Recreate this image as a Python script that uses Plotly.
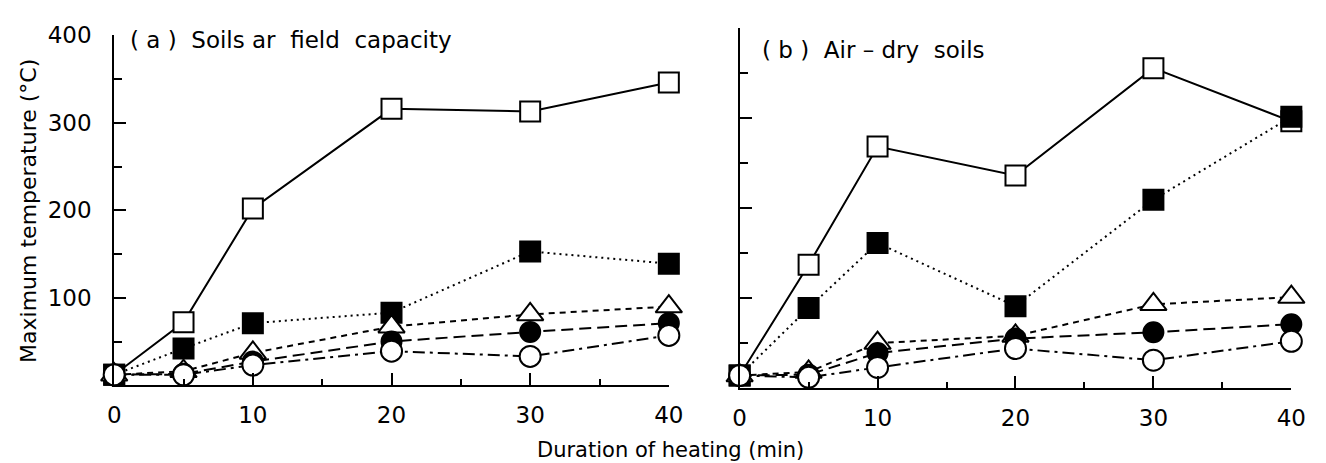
import plotly.graph_objects as go

minutes = [0, 5, 10, 20, 30, 40]

# Panel (a) Soils at field capacity
a_open_square = [12, 72, 202, 316, 313, 346]
a_filled_square = [12, 42, 71, 83, 153, 139]
a_open_triangle = [12, 16, 37, 67, 81, 90]
a_filled_circle = [12, 13, 27, 50, 61, 71]
a_open_circle = [12, 12, 23, 39, 33, 57]

# Panel (b) Air-dry soils
b_open_square = [14, 137, 268, 236, 355, 296]
b_filled_square = [14, 89, 161, 91, 209, 301]
b_open_triangle = [14, 18, 50, 58, 93, 101]
b_filled_circle = [14, 15, 39, 55, 62, 71]
b_open_circle = [14, 12, 23, 44, 31, 52]

x_ticks = [0, 10, 20, 30, 40]
x_minor = [5, 15, 25, 35]
y_ticks = [100, 200, 300, 400]
y_minor = [50, 150, 250, 350]

FONT = "DejaVu Sans"

styles = [
    ("square", "white", "solid", 20),
    ("square", "black", "2px,4px", 20),
    ("triangle-up", "white", "6px,5px", 23),
    ("circle", "black", "12px,6px", 20),
    ("circle", "white", "12px,5px,3px,5px", 21),
]

fig = go.Figure()
for panel, series, xa, ya in [
    ("a", [a_open_square, a_filled_square, a_open_triangle, a_filled_circle, a_open_circle], "x", "y"),
    ("b", [b_open_square, b_filled_square, b_open_triangle, b_filled_circle, b_open_circle], "x2", "y2"),
]:
    for vals, (sym, fill, dash, size) in zip(series, styles):
        fig.add_trace(go.Scatter(
            x=minutes, y=vals, xaxis=xa, yaxis=ya, mode="lines+markers",
            line=dict(color="black", width=2, dash=dash),
            marker=dict(symbol=sym, size=size, color=fill, line=dict(color="black", width=2)),
            cliponaxis=False, showlegend=False, hoverinfo="x+y",
        ))

common_x = dict(range=[0, 40], showline=True, linecolor="black", linewidth=2,
                ticks="inside", ticklen=12, tickwidth=2, tickcolor="black",
                tickvals=x_ticks, showgrid=False, zeroline=False,
                tickfont=dict(family=FONT, size=23, color="black"),
                minor=dict(tickvals=x_minor, ticks="inside", ticklen=6, tickwidth=2, tickcolor="black"))
common_y = dict(range=[0, 400], showline=True, linecolor="black", linewidth=2,
                ticks="inside", ticklen=12, tickwidth=2, tickcolor="black",
                tickvals=y_ticks, showgrid=False, zeroline=False,
                tickfont=dict(family=FONT, size=23, color="black"),
                minor=dict(tickvals=y_minor, ticks="inside", ticklen=8, tickwidth=2, tickcolor="black"))

W, H = 1326, 463
fig.update_layout(
    width=W, height=H,
    margin=dict(l=0, r=0, t=0, b=0),
    paper_bgcolor="white", plot_bgcolor="white",
    font=dict(family=FONT, color="black"),
    xaxis=dict(domain=[109 / W, 673 / W], anchor="y", ticklabelstandoff=8, **common_x),
    yaxis=dict(domain=[(H - 383) / H, (H - 23) / H], anchor="x", ticklabelstandoff=16, **common_y),
    xaxis2=dict(domain=[745 / W, 1306 / W], anchor="y2", ticklabelstandoff=8, **common_x),
    yaxis2=dict(domain=[(H - 386) / H, (H - 15) / H], anchor="x2", showticklabels=False, **common_y),
    annotations=[
        dict(text="( a )  Soils ar  field  capacity", x=123 / W, y=(H - 28) / H, xref="paper", yref="paper",
             xanchor="left", yanchor="middle", showarrow=False,
             font=dict(family=FONT, size=23, color="black")),
        dict(text="( b )  Air – dry  soils", x=766 / W, y=(H - 38) / H, xref="paper", yref="paper",
             xanchor="left", yanchor="middle", showarrow=False,
             font=dict(family=FONT, size=23, color="black")),
        dict(text="Maximum temperature (°C)", x=22 / W, y=(H - 204) / H, xref="paper", yref="paper",
             xanchor="center", yanchor="middle", showarrow=False, textangle=-90,
             font=dict(family=FONT, size=22, color="black")),
        dict(text="Duration of heating (min)", x=675 / W, y=(H - 450) / H, xref="paper", yref="paper",
             xanchor="center", yanchor="middle", showarrow=False,
             font=dict(family=FONT, size=21, color="black")),
    ],
)

fig.write_html("out.html")
